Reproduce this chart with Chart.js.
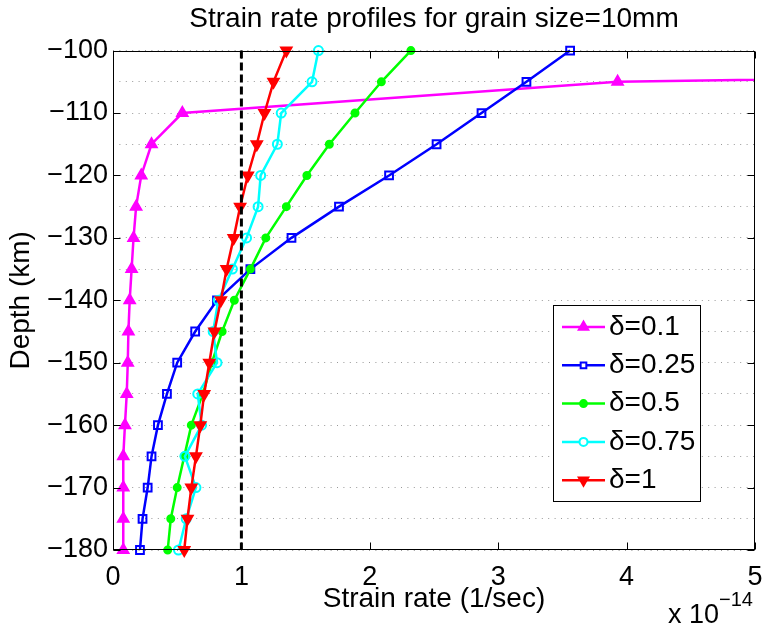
<!DOCTYPE html>
<html>
<head>
<meta charset="utf-8">
<script src="https://cdn.jsdelivr.net/npm/chart.js"></script>
<style>
  html, body { margin: 0; padding: 0; background: #fff; }
  #wrap { width: 764px; height: 631px; }
</style>
</head>
<body>
<div id="wrap"><canvas id="strainChart" width="764" height="631"></canvas></div>
<script>
// === DATA (strain rate in units of 1e-14 1/sec, depth in km)
const depths = [-100, -105, -110, -115, -120, -125, -130, -135, -140, -145, -150, -155, -160, -165, -170, -175, -180];
const delta01  = [20.3, 3.93, 0.54, 0.30, 0.22, 0.18, 0.16, 0.145, 0.13, 0.12, 0.115, 0.107, 0.093, 0.08, 0.08, 0.08, 0.08];
const delta025 = [3.56, 3.22, 2.87, 2.52, 2.15, 1.76, 1.39, 1.07, 0.81, 0.64, 0.50, 0.42, 0.35, 0.30, 0.27, 0.23, 0.21];
const delta05  = [2.32, 2.09, 1.885, 1.685, 1.51, 1.35, 1.19, 1.07, 0.945, 0.85, 0.77, 0.70, 0.61, 0.555, 0.50, 0.45, 0.426];
const delta075 = [1.60, 1.55, 1.31, 1.28, 1.15, 1.13, 1.04, 0.93, 0.82, 0.78, 0.81, 0.66, 0.69, 0.56, 0.646, 0.57, 0.51];
const delta1   = [1.35, 1.25, 1.18, 1.12, 1.05, 0.99, 0.94, 0.885, 0.84, 0.79, 0.75, 0.71, 0.68, 0.646, 0.61, 0.58, 0.555];
const seriesLabels = ['δ=0.1', 'δ=0.25', 'δ=0.5', 'δ=0.75', 'δ=1'];
const refRate = 1;            // dashed reference line
const xTicks = [0, 1, 2, 3, 4, 5];
const yMin = -180, yMax = -100;

const pts = vals => vals.map((v, i) => ({ x: v, y: depths[i] }));
const clipBox = { left: 12, top: 12, right: 0, bottom: 12 };
const FONT = '"Liberation Sans", Arial, sans-serif';

function series(label, vals, color, style, radius, filled, order, rotation) {
  return {
    label, data: pts(vals), borderColor: color, borderWidth: 2.5,
    backgroundColor: filled ? color : 'rgba(0,0,0,0)',
    pointStyle: style, pointRadius: radius, pointBorderWidth: 2,
    pointBorderColor: color, pointBackgroundColor: filled ? color : 'rgba(0,0,0,0)',
    pointRotation: rotation || 0, tension: 0, fill: false, clip: clipBox, order
  };
}

const datasets = [
  series(seriesLabels[0], delta01,  '#ff00ff', 'triangle', 6,   true,  5),
  series(seriesLabels[1], delta025, '#0000ff', 'rect',     5.5, false, 4),
  series(seriesLabels[2], delta05,  '#00ff00', 'circle',   3.5, true,  3),
  series(seriesLabels[3], delta075, '#00ffff', 'circle',   4.5, false, 2),
  series(seriesLabels[4], delta1,   '#ff0000', 'triangle', 6,   true,  1, 180),
  {
    label: 'ref', data: [{ x: refRate, y: yMax }, { x: refRate, y: yMin }],
    borderColor: '#000', borderWidth: 3, borderDash: [8, 4], pointRadius: 0,
    fill: false, clip: clipBox, order: 0
  }
];

// ====== box, inward ticks, exponent and legend (MATLAB look)
const matlabFrame = {
  id: 'matlabFrame',
  afterDatasetsDraw(chart) {
    const { ctx, chartArea: a, scales: { x, y } } = chart;
    const L = Math.round(a.left) + 0.5, R = Math.round(a.right) - 0.5;
    const T = Math.round(a.top) + 0.5, B = Math.round(a.bottom) - 0.5;
    const tk = 7;
    ctx.save();
    ctx.strokeStyle = '#000';
    ctx.lineWidth = 1;
    ctx.setLineDash([]);
    ctx.beginPath();
    x.ticks.forEach(t => {
      const px = Math.round(x.getPixelForValue(t.value)) + 0.5;
      ctx.moveTo(px, B); ctx.lineTo(px, B - tk);
      ctx.moveTo(px, T); ctx.lineTo(px, T + tk);
    });
    y.ticks.forEach(t => {
      if (t.value % 10 !== 0) return;
      const py = Math.round(y.getPixelForValue(t.value)) + 0.5;
      ctx.moveTo(L, py); ctx.lineTo(L + tk, py);
      ctx.moveTo(R, py); ctx.lineTo(R - tk, py);
    });
    ctx.stroke();
    ctx.strokeRect(L, T, R - L, B - T);

    // x 10^-14
    ctx.fillStyle = '#000';
    ctx.textBaseline = 'alphabetic';
    ctx.textAlign = 'left';
    ctx.font = '27px ' + FONT;
    ctx.fillText('x 10', 668, 623);
    ctx.font = '20px ' + FONT;
    ctx.fillText('\u221214', 719, 606);

    // legend
    const lx = 553.5, ly = 305.5, lw = 147, lh = 196;
    ctx.fillStyle = '#fff';
    ctx.fillRect(lx, ly, lw, lh);
    ctx.strokeRect(lx, ly, lw, lh);
    ctx.font = '28px ' + FONT;
    ctx.textBaseline = 'middle';
    for (let i = 0; i < seriesLabels.length; i++) {
      const ds = chart.data.datasets[i];
      const cy = 327 + i * 38.3;
      ctx.strokeStyle = ds.borderColor;
      ctx.lineWidth = 2.5;
      ctx.beginPath();
      ctx.moveTo(562, cy); ctx.lineTo(605, cy);
      ctx.stroke();
      ctx.fillStyle = ds.pointBackgroundColor === 'rgba(0,0,0,0)' ? '#fff' : ds.pointBackgroundColor;
      ctx.lineWidth = 2;
      const r = ds.pointStyle === 'triangle' ? 5.5 : Math.min(ds.pointRadius, 4);
      if (Chart.helpers && Chart.helpers.drawPoint) {
        Chart.helpers.drawPoint(ctx, { pointStyle: ds.pointStyle, radius: r, rotation: ds.pointRotation, borderWidth: 2 }, 583.5, cy);
      }
      ctx.fillStyle = '#000';
      ctx.fillText(seriesLabels[i], 609, cy);
    }
    ctx.restore();
  }
};

new Chart(document.getElementById('strainChart').getContext('2d'), {
  type: 'line',
  data: { datasets },
  options: {
    responsive: false,
    animation: false,
    layout: { padding: { left: 0, right: 9, top: 0, bottom: 0 } },
    plugins: {
      legend: { display: false },
      tooltip: { enabled: false },
      title: {
        display: true, text: 'Strain rate profiles for grain size=10mm',
        color: '#000', fullSize: false,
        font: { family: FONT, size: 28, weight: 'normal' },
        padding: { top: 2, bottom: 15 }
      }
    },
    scales: {
      x: {
        type: 'linear', min: 0, max: 5,
        afterFit: s => { s.height = 81; s.paddingLeft = 0; s.paddingRight = 0; },
        afterBuildTicks: s => { s.ticks = xTicks.map(v => ({ value: v })); },
        grid: { display: false },
        border: { display: false },
        ticks: { color: '#000', padding: 3, maxRotation: 0, autoSkip: false,
          font: { family: FONT, size: 27 } },
        title: { display: true, text: 'Strain rate (1/sec)', color: '#000',
          padding: { top: 0, bottom: 15 },
          font: { family: FONT, size: 28 } }
      },
      y: {
        type: 'linear', min: yMin, max: yMax,
        afterFit: s => { s.width = 113; },
        grid: { color: '#999', lineWidth: 1, drawTicks: false },
        border: { display: false, dash: [1, 5.4] },
        ticks: { stepSize: 5, autoSkip: false, color: '#000', padding: 5,
          callback: v => (v % 10 === 0 ? '\u2212' + Math.abs(v) : ''),
          font: { family: FONT, size: 27 } },
        title: { display: true, text: 'Depth (km)', color: '#000',
          padding: { top: 4, bottom: 0 },
          font: { family: FONT, size: 28 } }
      }
    }
  },
  plugins: [matlabFrame]
});
</script>
</body>
</html>
